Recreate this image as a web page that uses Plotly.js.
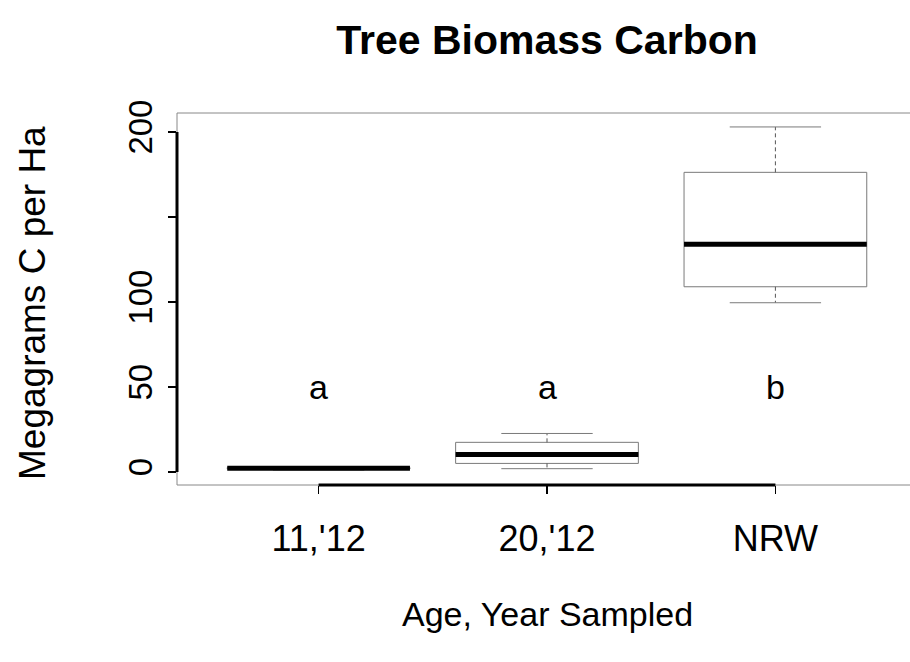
<!DOCTYPE html>
<html><head><meta charset="utf-8">
<script src="https://cdn.plot.ly/plotly-3.0.1.min.js"></script>
<style>html,body{margin:0;padding:0;overflow:hidden;background:#fff;width:910px;height:662px}</style>
</head><body><div id="chart" style="width:930px;height:662px"></div>
<script>
// ---- data ----
const categories = ["11,'12", "20,'12", "NRW"];
const positions = [0, 1, 2];
const lowerWhisker = [1.2, 2.0, 99.6];
const q1 = [1.8, 5.1, 109];
const median = [2.2, 10.4, 134];
const q3 = [2.7, 17.5, 176.3];
const upperWhisker = [3.2, 22.7, 203];
const groupLetters = ["a", "a", "b"];
const letterY = [50, 50, 50];
const yTickVals = [0, 50, 100, 150, 200];
const yTickText = ["0", "50", "100", "", "200"];
const chartTitle = "Tree Biomass Carbon";
const xTitle = "Age, Year Sampled";
const yTitle = "Megagrams C per Ha";

const FONT = "Liberation Sans, Arial, Helvetica, sans-serif";
const BOXW = 0.8;
const CAPW = 0.4;
const BOXLINE = '#7a7a7a';

// box bodies (whiskers drawn separately, dashed as in R)
const traces = [{
  type: 'box',
  x: positions,
  q1: q1, median: median, q3: q3,
  lowerfence: q1, upperfence: q3,
  width: BOXW,
  whiskerwidth: 0,
  fillcolor: 'rgba(255,255,255,0)',
  line: {color: BOXLINE, width: 1},
  hoverinfo: 'skip',
  showlegend: false
}];
positions.forEach((p, i) => {
  // dashed whiskers
  traces.push({
    type: 'scatter', mode: 'lines',
    x: [p, p, null, p, p],
    y: [q3[i], upperWhisker[i], null, q1[i], lowerWhisker[i]],
    line: {color: '#555', width: 1, dash: '4px,3px'},
    hoverinfo: 'skip', showlegend: false
  });
  // whisker caps
  traces.push({
    type: 'scatter', mode: 'lines',
    x: [p - CAPW / 2, p + CAPW / 2, null, p - CAPW / 2, p + CAPW / 2],
    y: [upperWhisker[i], upperWhisker[i], null, lowerWhisker[i], lowerWhisker[i]],
    line: {color: BOXLINE, width: 1},
    hoverinfo: 'skip', showlegend: false
  });
  // thick median
  traces.push({
    type: 'scatter', mode: 'lines',
    x: [p - BOXW / 2, p + BOXW / 2],
    y: [median[i], median[i]],
    line: {color: '#000', width: 5},
    hoverinfo: 'skip', showlegend: false
  });
});

const annotations = positions.map((p, i) => ({
  x: p, y: letterY[i], xref: 'x', yref: 'y',
  text: groupLetters[i], showarrow: false,
  font: {family: FONT, size: 34, color: '#000'}
}));
annotations.push({
  text: xTitle, xref: 'paper', yref: 'paper', x: 0.5, y: 0,
  xanchor: 'center', yanchor: 'middle', yshift: -129, showarrow: false,
  font: {family: FONT, size: 34, color: '#000'}
});
annotations.push({
  text: yTitle, xref: 'paper', yref: 'paper', x: 0, y: 0.5,
  xanchor: 'center', yanchor: 'middle', xshift: -145, yshift: -4, textangle: -90,
  showarrow: false,
  font: {family: FONT, size: 37, color: '#000'}
});

const layout = {
  width: 930, height: 662,
  margin: {l: 177, r: 13, t: 113, b: 177},
  paper_bgcolor: '#fff', plot_bgcolor: '#fff',
  font: {family: FONT, color: '#000'},
  title: {
    text: chartTitle,
    font: {family: FONT, size: 41, weight: 'bold', color: '#000'},
    xref: 'paper', x: 0.5, xanchor: 'center',
    yref: 'container', y: 1 - 40 / 662, yanchor: 'middle'
  },
  xaxis: {
    range: [-0.62, 2.62],
    tickvals: positions, ticktext: categories,
    ticks: 'outside', ticklen: 8, tickwidth: 1.5, tickcolor: '#000',
    ticklabelstandoff: 14,
    tickfont: {family: FONT, size: 36, color: '#000'},
    showgrid: false, zeroline: false, showline: false
  },
  yaxis: {
    range: [-7.6, 211.2],
    tickvals: yTickVals, ticktext: yTickText,
    tickangle: -90,
    ticks: 'outside', ticklen: 8, tickwidth: 1.5, tickcolor: '#000',
    ticklabelstandoff: 3,
    tickfont: {family: FONT, size: 33, color: '#000'},
    showgrid: false, zeroline: false, showline: false
  },
  shapes: [
    {type: 'rect', xref: 'paper', yref: 'paper', x0: 0, x1: 1, y0: 0, y1: 1,
     line: {color: '#888', width: 1}},
    {type: 'line', xref: 'paper', yref: 'y', x0: 0, x1: 0,
     y0: yTickVals[0], y1: yTickVals[yTickVals.length - 1], line: {color: '#000', width: 3}},
    {type: 'line', xref: 'x', yref: 'paper', x0: positions[0], x1: positions[positions.length - 1],
     y0: 0, y1: 0, line: {color: '#000', width: 3}}
  ],
  annotations: annotations
};

Plotly.newPlot('chart', traces, layout, {displayModeBar: false, staticPlot: true});
</script></body></html>
